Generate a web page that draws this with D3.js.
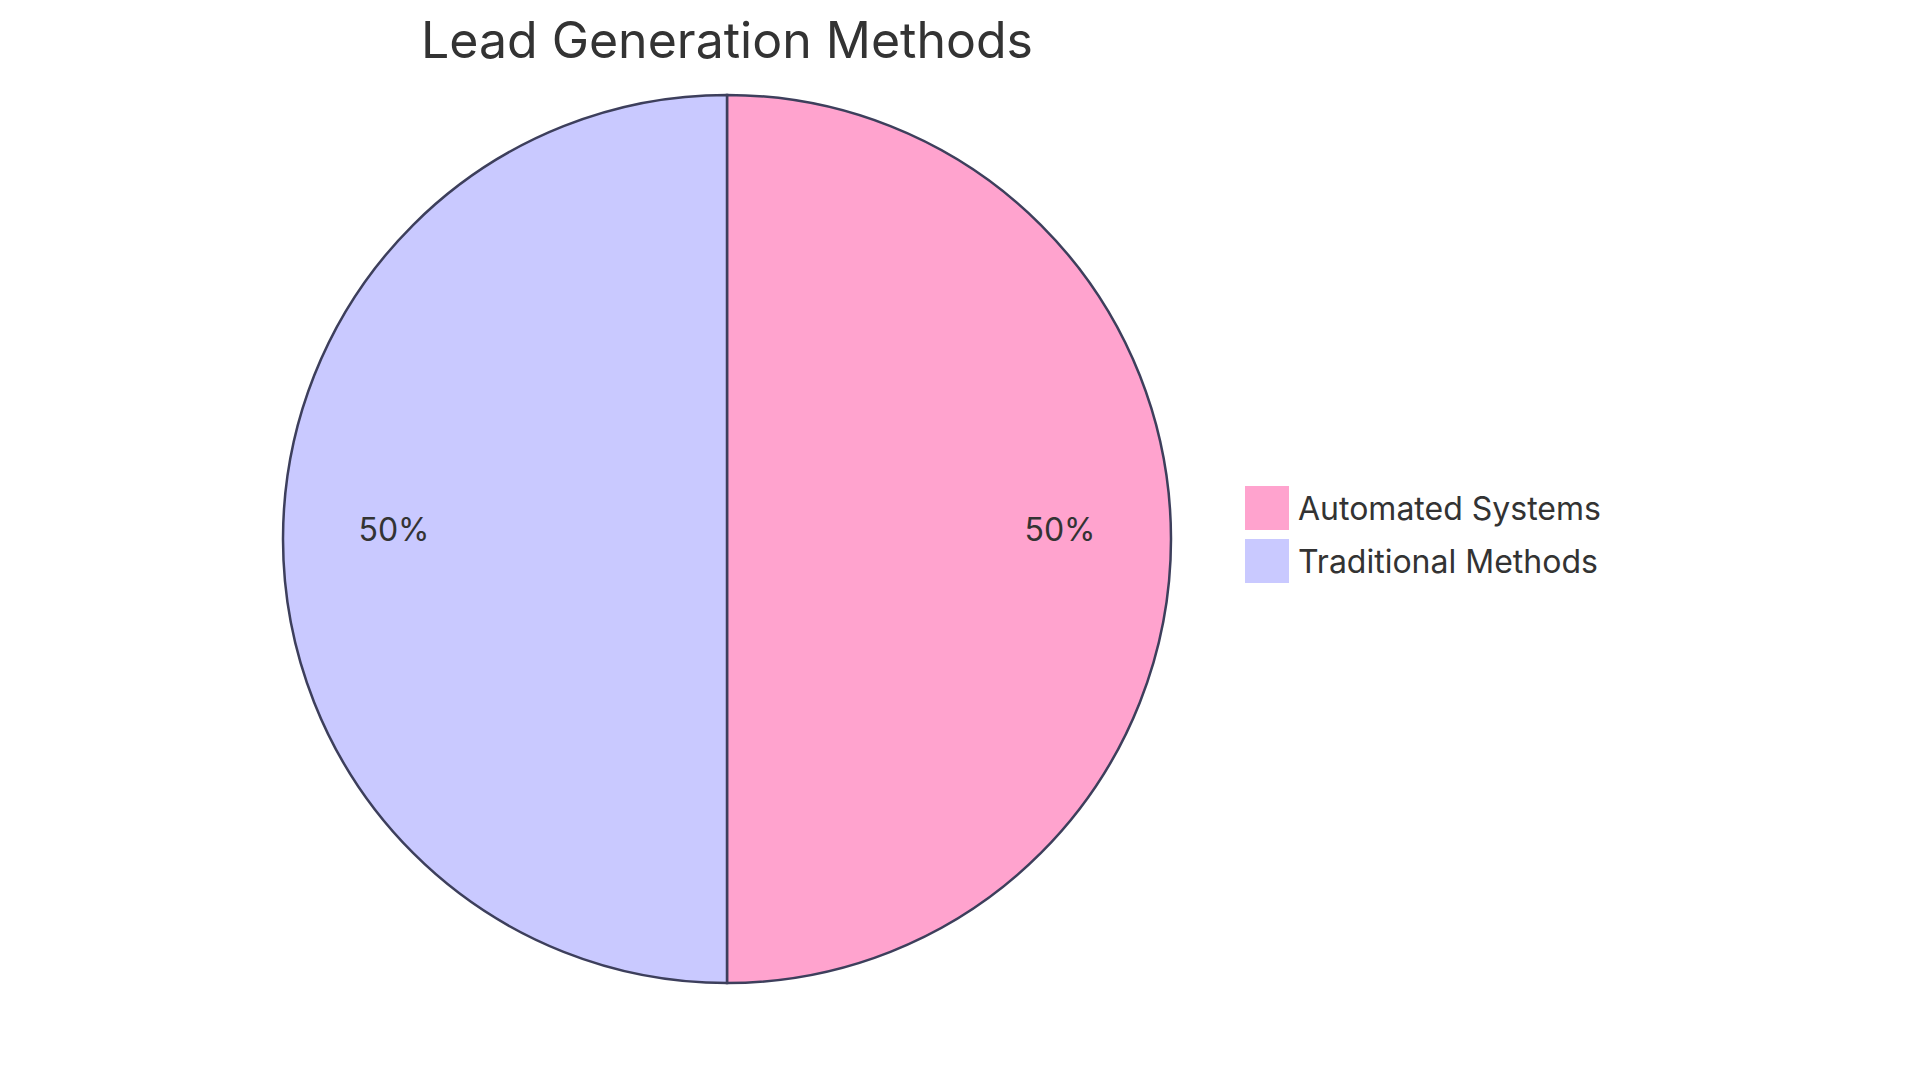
<!DOCTYPE html><html><head><script src="https://cdn.jsdelivr.net/npm/d3@7"></script>
<style>body{margin:0;background:#fff}</style></head><body><svg id="c" width="1920" height="1083"></svg>
<script>
const categories=["Automated Systems","Traditional Methods"];
const values=[50,50];
const colors=["#FFA3CE","#C9C9FF"];
const svg=d3.select("#c"),cx=727,cy=539,r=444;
const font="Inter, 'Noto Sans', sans-serif";
svg.append("text").attr("x",cx).attr("y",58).attr("text-anchor","middle").attr("font-family",font).attr("font-size",50).attr("fill","#333").text("Lead Generation Methods");
const pie=d3.pie().sort(null)(values);
const arc=d3.arc().innerRadius(0).outerRadius(r);
const g=svg.append("g").attr("transform",`translate(${cx},${cy})`);
g.selectAll("path").data(pie).join("path").attr("d",arc).attr("fill",(d,i)=>colors[i]).attr("stroke","#3D3F5C").attr("stroke-width",2.5);
const la=d3.arc().innerRadius(r*0.75).outerRadius(r*0.75);
g.selectAll("text").data(pie).join("text").attr("transform",d=>{const c=la.centroid(d);return `translate(${c[0]},${c[1]-10})`}).attr("text-anchor","middle").attr("dominant-baseline","central").attr("font-family",font).attr("font-size",32).attr("fill","#333").text(d=>Math.round(d.data/d3.sum(values)*100)+"%");
const lg=svg.append("g").selectAll("g").data(categories).join("g").attr("transform",(d,i)=>`translate(1245,${486+i*53})`);
lg.append("rect").attr("width",44).attr("height",44).attr("fill",(d,i)=>colors[i]);
lg.append("text").attr("x",53).attr("y",22).attr("dominant-baseline","central").attr("font-family",font).attr("font-size",32).attr("fill","#333").text(d=>d);
</script></body></html>
